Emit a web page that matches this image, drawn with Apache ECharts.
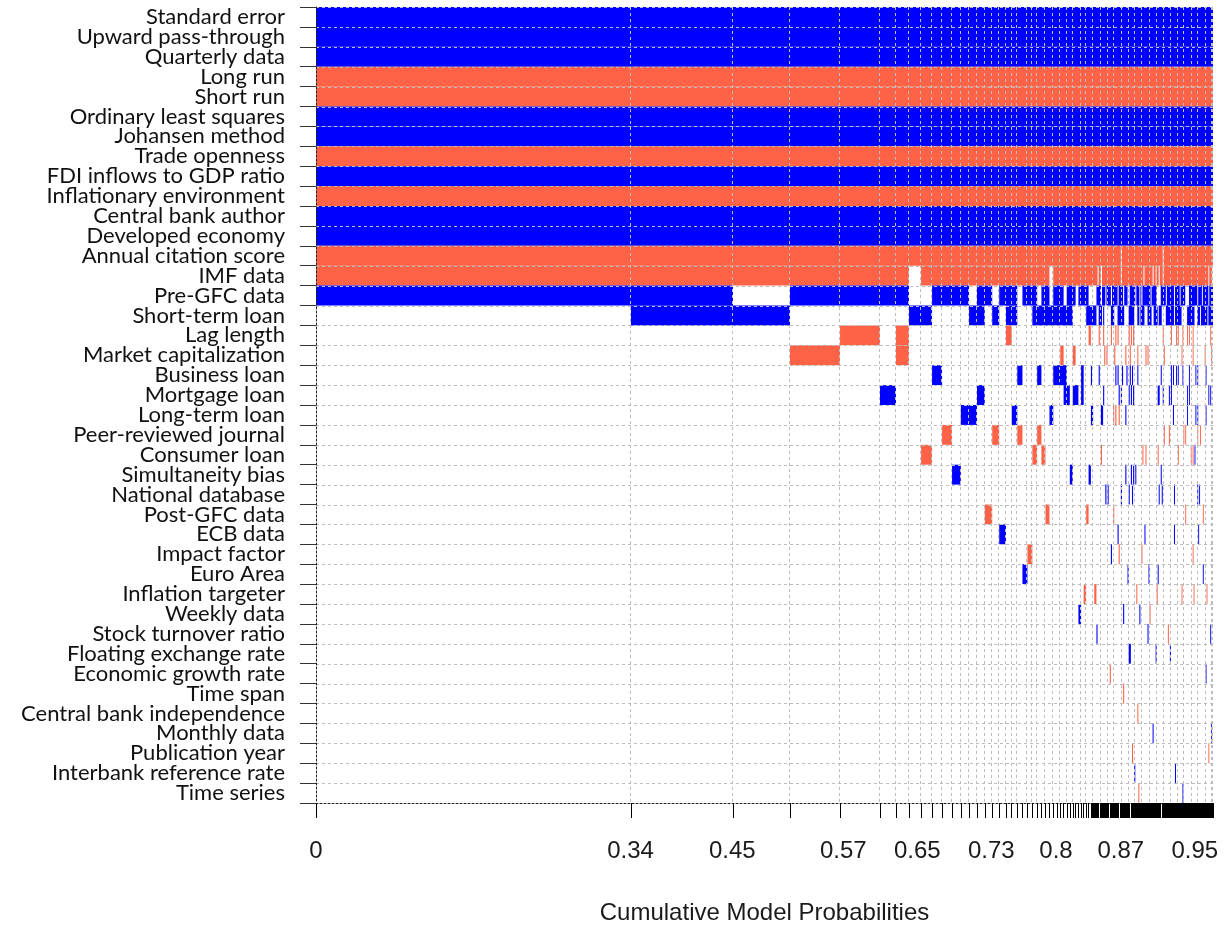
<!DOCTYPE html>
<html>
<head>
<meta charset="utf-8">
<script src="https://cdn.jsdelivr.net/npm/echarts@6/dist/echarts.min.js"></script>
<style>html,body{margin:0;padding:0;background:#fff;}#chart{width:1227px;height:926px;}</style>
</head>
<body>
<div id="chart"></div>
<script>
// ---- DATA ----
const variables = [
  "Standard error","Upward pass-through","Quarterly data","Long run","Short run",
  "Ordinary least squares","Johansen method","Trade openness","FDI inflows to GDP ratio","Inflationary environment",
  "Central bank author","Developed economy","Annual citation score","IMF data","Pre-GFC data",
  "Short-term loan","Lag length","Market capitalization","Business loan","Mortgage loan",
  "Long-term loan","Peer-reviewed journal","Consumer loan","Simultaneity bias","National database",
  "Post-GFC data","ECB data","Impact factor","Euro Area","Inflation targeter",
  "Weekly data","Stock turnover ratio","Floating exchange rate","Economic growth rate","Time span",
  "Central bank independence","Monthly data","Publication year","Interbank reference rate","Time series"
];

// posterior model probabilities (width of each model column), best model first
const modelProbs = [
  0.3405,0.1103,0.0616,0.0541,0.0432,0.0173,0.0141,0.0130,0.0119,0.0108,
  0.0108,0.0095,0.0089,0.0086,0.0084,0.0080,0.0076,0.0073,0.0062,0.0060,
  0.0056,0.0054,0.0053,0.0052,0.0046,0.0044,0.0043,0.0041,0.0039,0.0037,
  0.0036,0.0034,0.0033,0.0032,0.0031,0.0030,0.0029,0.0028,0.0027,0.0026,
  0.0025,
  0.0012,0.0012,0.0012,0.0012,0.0012,0.0012,0.0012,0.0012,0.0012,0.0012,
  0.0012,0.0012,0.0012,0.0012,0.0012,0.0012,0.0012,0.0012,0.0012,0.0012,
  0.0012,0.0012,0.0012,0.0012,0.0012,0.0012,0.0012,0.0012,0.0012,0.0012,
  0.0012,0.0012,0.0012,0.0012,0.0012,0.0012,0.0012,0.0012,0.0012,0.0012,
  0.0011,0.0011,0.0011,0.0011,0.0011,0.0011,0.0011,0.0011,0.0011,0.0011,
  0.0011,0.0011,0.0011,0.0011,0.0011,0.0011,0.0011,0.0011,0.0011,0.0011,
  0.0011,0.0011,0.0011,0.0011,0.0011,0.0011,0.0011,0.0011,0.0011,0.0011,
  0.0011,0.0011,0.0011,0.0011,0.0011,0.0011,0.0011,0.0011,0.0011,0.0011,
  0.0010,0.0010,0.0010,0.0010,0.0010,0.0010,0.0010,0.0010,0.0010,0.0010,
  0.0010,0.0010,0.0010,0.0010,0.0010,0.0010,0.0010,0.0010,0.0010,0.0010,
  0.0010,0.0010,0.0010,0.0010,0.0010,0.0010,0.0010,0.0010,0.0010,0.0010,
  0.0010,0.0010,0.0010,0.0010,0.0010,0.0010,0.0010,0.0010,0.0010,0.0010
];

// inclusion per variable, one character per model: '+' positive, '-' negative, '.' not included
// (spaces and '|' are only visual separators)
const inclusion = [
  "++++++++++ ++++++++++ ++++++++++ ++++++++++ + | ++++++++++ ++++++++++ ++++++++++ ++++++++++ ++++++++++ ++++++++++ ++++++++++ ++++++++++ ++++++++++ ++++++++++ ++++++++++ ++++++++++",
  "++++++++++ ++++++++++ ++++++++++ ++++++++++ + | ++++++++++ ++++++++++ ++++++++++ ++++++++++ ++++++++++ ++++++++++ ++++++++++ ++++++++++ ++++++++++ ++++++++++ ++++++++++ ++++++++++",
  "++++++++++ ++++++++++ ++++++++++ ++++++++++ + | ++++++++++ ++++++++++ ++++++++++ ++++++++++ ++++++++++ ++++++++++ ++++++++++ ++++++++++ ++++++++++ ++++++++++ ++++++++++ ++++++++++",
  "---------- ---------- ---------- ---------- - | ---------- ---------- ---------- ---------- ---------- ---------- ---------- ---------- ---------- ---------- ---------- ----------",
  "---------- ---------- ---------- ---------- - | ---------- ---------- ---------- ---------- ---------- ---------- ---------- ---------- ---------- ---------- ---------- ----------",
  "++++++++++ ++++++++++ ++++++++++ ++++++++++ + | ++++++++++ ++++++++++ ++++++++++ ++++++++++ ++++++++++ ++++++++++ ++++++++++ ++++++++++ ++++++++++ ++++++++++ ++++++++++ ++++++++++",
  "++++++++++ ++++++++++ ++++++++++ ++++++++++ + | ++++++++++ ++++++++++ ++++++++++ ++++++++++ ++++++++++ ++++++++++ ++++++++++ ++++++++++ ++++++++++ ++++++++++ ++++++++++ ++++++++++",
  "---------- ---------- ---------- ---------- - | ---------- ---------- ---------- ---------- ---------- ---------- ---------- ---------- ---------- ---------- ---------- ----------",
  "++++++++++ ++++++++++ ++++++++++ ++++++++++ + | ++++++++++ ++++++++++ ++++++++++ ++++++++++ ++++++++++ ++++++++++ ++++++++++ ++++++++++ ++++++++++ ++++++++++ ++++++++++ ++++++++++",
  "---------- ---------- ---------- ---------- - | ---------- ---------- ---------- ---------- ---------- ---------- ---------- ---------- ---------- ---------- ---------- ----------",
  "++++++++++ ++++++++++ ++++++++++ ++++++++++ + | ++++++++++ ++++++++++ ++++++++++ ++++++++++ ++++++++++ ++++++++++ ++++++++++ ++++++++++ ++++++++++ ++++++++++ ++++++++++ ++++++++++",
  "++++++++++ ++++++++++ ++++++++++ ++++++++++ + | ++++++++++ ++++++++++ ++++++++++ ++++++++++ ++++++++++ ++++++++++ ++++++++++ ++++++++++ ++++++++++ ++++++++++ ++++++++++ ++++++++++",
  "---------- ---------- ---------- ---------- - | ---------- ---------- -------.-- ---------- ---------- ---------- -------.-- ---------- ---------- ---------- ---------- ----------",
  "-------.-- ---------- -------.-- ---------- - | ------.--. ---------- -------.-- ---------- --------.- -------.-- .--.---.-- ---------- ---------- ---------- ---------- -----.---.",
  "++.++++..+ +++.++.+++ .+++.++.++ +.+++.++++ . | .....++++. +++.++++.+ ++++.++++. +++..+++++ .+++.+.+++ +++++.++++ +....+++++ .+++++++.+ ++++.+++++ ....++++++ +++.++++.+ +++++.++++",
  ".++....++. ...++.+.++ ...+++++++ ++++.....+ + | +++++..+++ .+......++ +...++++++ ....+++++. ..++.++++. ..++++..++ ++.+++.... ++++++++.+ ++++++.... ..++++++++ ...+++.+++ ++++.+++++",
  "....-.-... ........-. .......... .......... - | .......-.. .-......-. ..-.-..... ....-.-.-. .......... .......... .......-.. .....-.... -.-....-.. ..-.-...-. .......... .......-..",
  "...-..-... .......... .......... -...-..... . | .......... ..-.-..... .-........ .-...-.... ..-....... -.-....... ........-. .......... ......-... ........-. .......... .-......-.",
  ".........+ .......... +...+...++ ++.....+.. . | +......+.. .......... ..+.+...+. ..+..+.+.. ..+....... .......... .....+.... .....+.+.. +.+....+.. ....+..... .+.+...... ..+.......",
  ".....+.... ....+..... .......... .++.++.+.. . | .......... .+........ .....+.+.. ....+.+.+. .......... .......... ..++...+.. ...+.+.... .......... ..+.+..... .......... .....+.+..",
  ".......... ..++.....+ .......+.. .......... . | ++.......+ +......... -.-..-.... .+........ .......... .......... .......... .......+.. .......... ..+....... .+.+...... ..+.......",
  ".......... -.....-... -...-..... .......... . | .......... .......... .......... .......... .......... .......... ........-. ...-...... ........-. -......... ...-..-... ..........",
  "........-. .......... ...-.-.... .......... . | .........- .......... .......... .......... .......-.. -......... ..-....... .......... ..-....... ......-.-. +......... ..........",
  ".......... .+........ .......... ...+...... + | .......... .......... .......... .+....+.+. +......... .......... .....+.... .......... .......... .......... .......... ..........",
  ".......... .......... .......... .......... . | .......... ...+.+.... .......+.. ....+..+.. .......... .......... ...+..+... ........+. .......... .......... ...+.+.... ..........",
  ".......... .....-.... ......-... .........- . | .......... .......... -......... .......... .......... .......... .......... .......... .......... -......... .........- ..........",
  ".......... .......+.. .......... .......... . | .......... .......... ....+..... .......... .........+ .......... .......... ........+. .......... .......... ....+..... ..........",
  ".......... .......... ..-....... .......... . | .......... ........+. .....-.... .......... ......-... .......... .......... .......... .......... ........-. .......... ..........",
  ".......... .......... .+........ .......... . | .......... .......... .......... ...+...... .......... ...+...... ..+....... .......... .......... .......... .........+ ..........",
  ".......... .......... .......... ........-. . | ...--..... .......... .......... .......... .-........ .......... .-........ .......... ......-... .........- .......... ...-......",
  ".......... .......... .......... ......+... . | .......... .......... .........+ .......... ....+..... ....-..... .......... .......... .......... .......... .......... ..........",
  ".......... .......... .......... .......... . | .....+.... .......... .......... .......... .......... ..+....... .......... ..-....... .......... .......... .......... .......+..",
  ".......... .......... .......... .......... . | .......... .......... .......... ....++.... .......... .......... +......... ....+..... .......... .......... .......... ..........",
  ".......... .......... .......... .......... . | .......... .......-.. .......... .......... .......... .......... .......... .......... .......... .......... .......... ..+.......",
  ".......... .......... .......... .......... . | .......... .......... .........- .......... .......... .......... .......... .......... .......... .......... .......... ..........",
  ".......... .......... .......... .......... . | .......... .......... .......... .......... ..-....... .......... .......... .......... .......... .......... .......... ..........",
  ".......... .......... .......... .......... . | .......... .......... .......... .......... .......... .......+.. .......... .......... .......... .......... .......... ........+.",
  ".......... .......... .......... .......... . | .......... .......... .......... .......-.. .......... .......... .......... .......... .......... .......... .......... .....-....",
  ".......... .......... .......... .......... . | .......... .......... .......... .........+ .......... .......... .......... .........+ .......... .......... .......... ..........",
  ".......... .......... .......... .......... . | .......... .......... .......... .......... ...-...... .......... .......... .......... .......+.. .......... .......... .........."
];

// labelled cumulative probabilities on the x axis
const tickLabels = [0, 0.34, 0.45, 0.57, 0.65, 0.73, 0.8, 0.87, 0.95];

// ---- BUILD ----
const POS = '#0000ff', NEG = '#ff6347';
const nModels = modelProbs.length;
const bounds = [0];
modelProbs.forEach(p => bounds.push(bounds[bounds.length - 1] + p));
const total = bounds[nModels];

const cells = [];
inclusion.forEach((raw, vi) => {
  let s = raw.replace(/[ |]/g, '');
  while (s.length < nModels) s += '.';
  s = s.slice(0, nModels);
  let m = 0;
  while (m < nModels) {
    const c = s[m];
    if (c === '+' || c === '-') {
      let e = m;
      while (e + 1 < nModels && s[e + 1] === c) e++;
      cells.push([bounds[m], bounds[e + 1], vi, c === '+' ? 1 : -1]);
      m = e + 1;
    } else m++;
  }
});

const vLines = bounds.map((b, i) => [b, i]);
const hLines = variables.map((v, i) => [0, i]);

const chart = echarts.init(document.getElementById('chart'), null, { renderer: 'canvas' });
chart.setOption({
  animation: false,
  backgroundColor: '#fff',
  grid: { left: 316, right: 14, top: 7, bottom: 123, containLabel: false, outerBoundsMode: 'none' },
  xAxis: {
    type: 'value', min: 0, max: total, z: 5,
    axisLine: { show: true, onZero: false, lineStyle: { color: '#222', type: [2, 2], width: 1 } },
    axisTick: { show: true, customValues: bounds, length: 15, lineStyle: { color: '#000', width: 1 } },
    axisLabel: { customValues: tickLabels, margin: 36, fontSize: 24, color: '#1a1a1a', fontFamily: 'Liberation Sans, Arial, sans-serif' },
    splitLine: { show: false },
    name: 'Cumulative Model Probabilities', nameLocation: 'middle', nameGap: 98,
    nameTextStyle: { fontSize: 24, color: '#1a1a1a', fontFamily: 'Liberation Sans, Arial, sans-serif' }
  },
  yAxis: {
    type: 'category', data: variables, inverse: true, z: 5,
    axisLine: { show: true, lineStyle: { color: '#222', type: [2, 2], width: 1 } },
    axisTick: { show: true, length: 16, interval: 0, lineStyle: { color: '#333', width: 1 } },
    axisLabel: { interval: 0, fontSize: 22, color: '#111', margin: 31, fontFamily: 'Lato, sans-serif', padding: [4, 0, 0, 0] },
    splitLine: { show: false }
  },
  series: [
    {
      type: 'custom', z: 2, data: cells,
      encode: { x: [0, 1], y: 2 },
      renderItem: function (params, api) {
        const s = api.coord([api.value(0), api.value(2)]);
        const e = api.coord([api.value(1), api.value(2)]);
        const h = api.size([0, 1])[1];
        return {
          type: 'rect',
          shape: { x: s[0], y: s[1] - h / 2, width: Math.max(e[0] - s[0], 0.8), height: h },
          style: { fill: api.value(3) > 0 ? POS : NEG }
        };
      }
    },
    {
      type: 'custom', z: 3, data: vLines, silent: true,
      encode: { x: 0 },
      renderItem: function (params, api) {
        const i = api.value(1);
        if (i === 0) return null;
        const cs = params.coordSys;
        const px = api.coord([api.value(0), 0])[0];
        const prev = api.coord([bounds[i - 1], 0])[0];
        if (i < nModels && Math.floor((px - cs.x) / 7) === Math.floor((prev - cs.x) / 7)) return null;
        const x = Math.round(px) - 0.5;
        return {
          type: 'line',
          shape: { x1: x, y1: cs.y, x2: x, y2: cs.y + cs.height },
          style: { stroke: '#bdbdbd', lineWidth: 1, lineDash: [3, 3] }
        };
      }
    },
    {
      type: 'custom', z: 3, data: hLines, silent: true,
      encode: { x: 0, y: 1 },
      renderItem: function (params, api) {
        const cs = params.coordSys;
        const c = api.coord([0, api.value(1)]);
        const h = api.size([0, 1])[1];
        const y = Math.round(c[1] - h / 2) + 0.5;
        return {
          type: 'line',
          shape: { x1: cs.x, y1: y, x2: cs.x + cs.width, y2: y },
          style: { stroke: '#bdbdbd', lineWidth: 1, lineDash: [3, 3] }
        };
      }
    }
  ]
});
</script>
</body>
</html>
